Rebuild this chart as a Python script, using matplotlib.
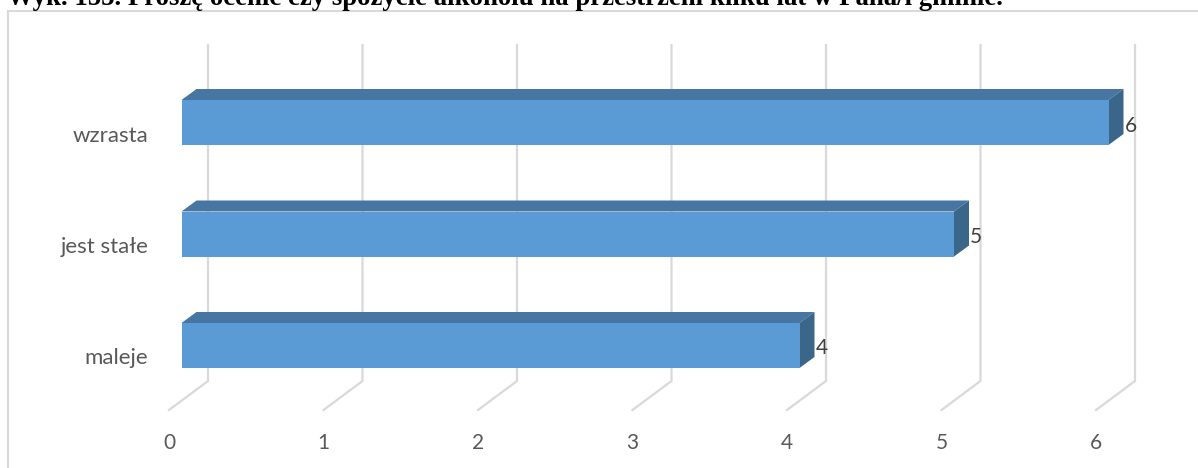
import matplotlib
matplotlib.use('Agg')
import matplotlib.pyplot as plt
from matplotlib.patches import Polygon

categories = ['maleje', 'jest stałe', 'wzrasta']
values = [4, 5, 6]
x_ticks = [0, 1, 2, 3, 4, 5, 6]
title = 'Wyk. 155. Proszę ocenić czy spożycie alkoholu na przestrzeni kilku lat w Pana/i gminie.'

W, H = 1198, 468

# Achse: Rahmen links/oben, unten und rechts laeuft er aus dem Bild
left, top = 7.5, 10.5
px_x = 154.5    # Pixel pro Einheit
px_y = 111.5    # Pixel pro Kategorie
x0_px = 181.5   # Pixel von Wert 0 (Vorderkante Balken)
y0_px = 345.5   # Pixel von Kategorie 0

fig = plt.figure(figsize=(W / 100, H / 100), dpi=100)
ax = fig.add_axes([left / W, 0, (W - left) / W, (H - top) / H])
ax.set_xlim((left - x0_px) / px_x, (W - x0_px) / px_x)
ax.set_ylim((y0_px - H) / px_y, (y0_px - top) / px_y)
ax.set_xticks([])
ax.set_yticks([])
for side in ['right', 'bottom']:
    ax.spines[side].set_visible(False)
for side in ['left', 'top']:
    ax.spines[side].set_color('#D9D9D9')
    ax.spines[side].set_linewidth(1.5)

# 3D-Versatz in Dateneinheiten
dx = 15 / px_x
dy = 11 / px_y
grid_dx = 26.5 / px_x
floor_dx = -12.5 / px_x
grid_top = (y0_px - 45) / px_y
grid_bottom = (y0_px - 381) / px_y
floor_bottom = (y0_px - 410) / px_y
bar_h = 45 / px_y

for t in x_ticks:
    ax.plot([t + floor_dx, t + grid_dx, t + grid_dx], [floor_bottom, grid_bottom, grid_top],
            color='#D9D9D9', lw=1.6, zorder=1, solid_joinstyle='miter')
    ax.text(t + floor_dx, (y0_px - 443) / px_y, str(t), ha='center', va='center',
            fontsize=15, color='#595959', family='Lato')

for i, (cat, val) in enumerate(zip(categories, values)):
    y1 = i - bar_h / 2
    y2 = i + bar_h / 2
    ax.add_patch(Polygon([(0, y2), (dx, y2 + dy), (val + dx, y2 + dy), (val, y2)],
                         facecolor='#4876A3', edgecolor='none', zorder=2))
    ax.add_patch(Polygon([(val, y1), (val + dx, y1 + dy), (val + dx, y2 + dy), (val, y2)],
                         facecolor='#3A6689', edgecolor='none', zorder=2))
    ax.barh(i, val, height=bar_h, color='#5B9BD5', edgecolor='none', zorder=3)
    ax.text(val + dx + 1 / px_x, i - 3 / px_y, str(val), ha='left', va='center',
            fontsize=15, color='#404040', family='Lato', zorder=4)
    ax.text(-33 / px_x, i - 13 / px_y, cat, ha='right', va='center',
            fontsize=16, color='#595959', family='Lato')

fig.text(7 / W, 1 - 5 / H, title, ha='left', va='baseline', fontsize=19.25,
         fontweight='bold', family='Liberation Serif', color='black')

fig.savefig('out.png', dpi=100)
